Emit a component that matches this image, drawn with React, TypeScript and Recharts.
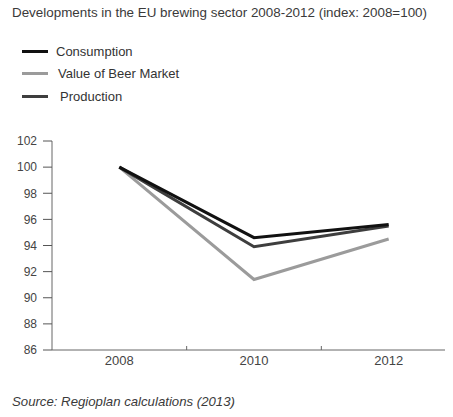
import { LineChart, Line, XAxis, YAxis } from 'recharts';

const years = [2008, 2010, 2012];
const consumption = [100, 94.6, 95.6];
const beerMarketValue = [100, 91.4, 94.5];
const production = [100, 93.9, 95.5];
const yTicks = [86, 88, 90, 92, 94, 96, 98, 100, 102];
// odd years sit on the boundaries between the year bands and only get a tick mark
const xTicks = [2008, 2009, 2010, 2011, 2012];

const series = [
  { key: 'consumption', name: 'Consumption', color: '#111111', textOffset: 0 },
  { key: 'value', name: 'Value of Beer Market', color: '#9b9b9b', textOffset: 2 },
  { key: 'production', name: 'Production', color: '#3e3e3e', textOffset: 4 }
];

const data = years.map((year, i) => ({
  year,
  consumption: consumption[i],
  value: beerMarketValue[i],
  production: production[i]
}));

const font = '"Liberation Sans", Arial, Helvetica, sans-serif';

const YearTick = ({ x, y, payload }: any) => {
  if (payload.value % 2 === 1) {
    return <line x1={x} x2={x} y1={y} y2={y - 4} stroke="#666" strokeWidth={1} />;
  }
  return (
    <text x={x} y={y + 15} textAnchor="middle" fill="#444" fontSize={13} fontFamily={font}>
      {payload.value}
    </text>
  );
};

export default function App() {
  return (
    <div
      style={{
        position: 'relative',
        width: 453,
        height: 417,
        margin: -8,
        overflow: 'hidden',
        background: '#fff',
        fontFamily: font,
        color: '#444'
      }}
    >
      <div style={{ position: 'absolute', left: 12, top: 5, fontSize: 13.4, whiteSpace: 'nowrap', color: '#3a3a3a' }}>
        Developments in the EU brewing sector 2008-2012 (index: 2008=100)
      </div>

      {series.map((s, i) => (
        <div key={s.key} style={{ position: 'absolute', left: 22, top: 43 + i * 22.5, height: 16, display: 'flex', alignItems: 'center' }}>
          <span style={{ display: 'inline-block', width: 26, height: 3, background: s.color }} />
          <span style={{ marginLeft: 8 + s.textOffset, fontSize: 13, color: '#333', whiteSpace: 'nowrap' }}>{s.name}</span>
        </div>
      ))}

      <div style={{ position: 'absolute', left: 0, top: 0 }}>
        <LineChart width={456} height={417} data={data} margin={{ top: 141, right: 0, bottom: 37, left: 0 }}>
          <XAxis
            dataKey="year"
            type="number"
            domain={[2007, 2013]}
            ticks={xTicks}
            tick={<YearTick />}
            tickLine={false}
            tickSize={0}
            tickMargin={0}
            height={30}
            interval={0}
            axisLine={{ stroke: '#666', strokeWidth: 1 }}
          />
          <YAxis
            domain={[86, 102]}
            ticks={yTicks}
            width={52}
            interval={0}
            tickSize={9}
            tickMargin={6}
            tickLine={{ stroke: '#555' }}
            axisLine={{ stroke: '#666', strokeWidth: 1 }}
            tick={{ fill: '#444', fontSize: 12, fontFamily: font }}
          />
          <Line dataKey="value" stroke="#9b9b9b" strokeWidth={3} dot={false} isAnimationActive={false} />
          <Line dataKey="production" stroke="#3e3e3e" strokeWidth={3} dot={false} isAnimationActive={false} />
          <Line dataKey="consumption" stroke="#111111" strokeWidth={3} dot={false} isAnimationActive={false} />
        </LineChart>
      </div>

      <div style={{ position: 'absolute', left: 12, top: 394, fontSize: 13.2, fontStyle: 'italic', whiteSpace: 'nowrap', color: '#3a3a3a' }}>
        Source: Regioplan calculations (2013)
      </div>
    </div>
  );
}
